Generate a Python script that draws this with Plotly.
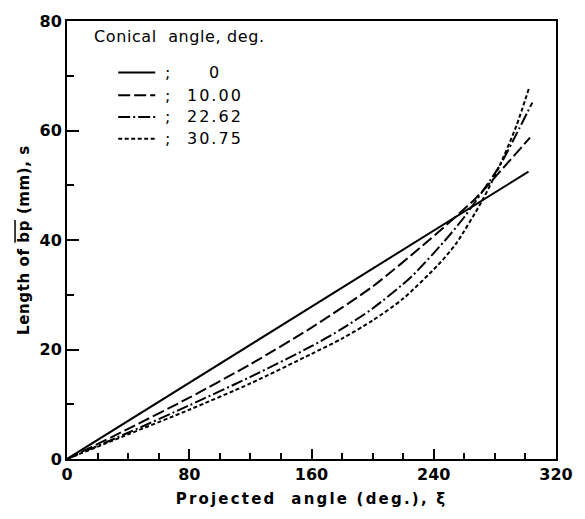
import plotly.graph_objects as go

# Projected angle (deg.) sample points and lengths (mm)
xi_0 = [0, 302]
s_0 = [0, 52.5]

xi_10 = [0, 40, 80, 120, 160, 200, 237, 267, 287.5, 303]
s_10 = [0, 5.5, 11.2, 17.3, 24.0, 31.5, 40.0, 47.5, 53.8, 58.7]

xi_22 = [0, 40, 80, 120, 160, 180, 200, 225, 247, 260, 283, 294, 304.5]
s_22 = [0, 4.8, 9.8, 15.0, 20.6, 23.8, 27.5, 33.2, 39.8, 44.2, 53.5, 59.3, 65.1]

xi_30 = [0, 40, 80, 120, 160, 180, 200, 220, 243, 254.5, 271.5, 283, 294, 302.4]
s_30 = [0, 4.5, 9.0, 13.8, 19.2, 22.0, 25.3, 29.3, 35.5, 39.3, 47.1, 53.5, 60.8, 67.8]

legend_title = "Conical  angle, deg."
legend_labels = ["0", "10.00", "22.62", "30.75"]
dashes = ["solid", "12px,4px", "12px,3px,2px,3px", "4px,2.5px"]

series = [(xi_0, s_0), (xi_10, s_10), (xi_22, s_22), (xi_30, s_30)]

fig = go.Figure()
for (xs, ys), d, lab in zip(series, dashes, legend_labels):
    fig.add_trace(go.Scatter(x=xs, y=ys, mode="lines", name=lab,
                             line=dict(color="black", width=2, dash=d, shape="spline", smoothing=0.7),
                             showlegend=False))

L, R, T, B = 66.5, 17, 16, 60
W, H = 585, 519
pw, ph = W - L - R, H - T - B

def px(x):
    return (x - L) / pw

def py(y):
    return (H - B - y) / ph

font_leg = dict(family="DejaVu Sans", size=16, color="black")

anns = [dict(x=px(92), y=py(32), xref="paper", yref="paper",
             text='<span style="letter-spacing:0.6px">' + legend_title + '</span>',
             showarrow=False, xanchor="left", yanchor="middle", font=font_leg)]
shapes = []
rows = [68, 91, 113, 135]
for ry, d, lab in zip(rows, dashes, legend_labels):
    shapes.append(dict(type="line", xref="paper", yref="paper", x0=px(119), x1=px(157),
                       y0=py(ry), y1=py(ry), line=dict(color="black", width=2, dash=d)))
    anns.append(dict(x=px(170), y=py(ry), xref="paper", yref="paper", text=";", showarrow=False,
                     xanchor="center", yanchor="middle", font=font_leg))
    txt = '<span style="letter-spacing:2px">' + lab + '</span>'
    if lab == "0":
        anns.append(dict(x=px(218), y=py(ry), xref="paper", yref="paper", text=txt, showarrow=False,
                         xanchor="center", yanchor="middle", font=font_leg))
    else:
        anns.append(dict(x=px(188), y=py(ry), xref="paper", yref="paper", text=txt, showarrow=False,
                         xanchor="left", yanchor="middle", font=font_leg))

tickfont = dict(family="DejaVu Sans", size=16, color="black", weight="bold")
titlefont = dict(family="DejaVu Sans", size=15, color="black", weight="bold")

fig.update_layout(
    width=W, height=H,
    margin=dict(l=L, r=R, t=T, b=B),
    paper_bgcolor="white", plot_bgcolor="white",
    annotations=anns, shapes=shapes,
    xaxis=dict(range=[0, 320], dtick=80, tick0=0, ticks="inside", ticklen=10, tickwidth=1.5,
               tickcolor="black", showline=True, linecolor="black", linewidth=2, mirror=True,
               showgrid=False, zeroline=False, tickfont=tickfont,
               minor=dict(dtick=20, ticks="inside", ticklen=6, tickcolor="black", tickwidth=1.5, showgrid=False),
               title=dict(text='<span style="letter-spacing:2.2px">Projected  angle (deg.), ξ</span>',
                          font=titlefont, standoff=10)),
    yaxis=dict(range=[0, 80], dtick=20, tick0=0, ticks="inside", ticklen=12, tickwidth=1.5,
               tickcolor="black", showline=True, linecolor="black", linewidth=2, mirror=True,
               showgrid=False, zeroline=False, tickfont=tickfont,
               minor=dict(dtick=10, ticks="inside", ticklen=7, tickcolor="black", tickwidth=1.5, showgrid=False),
               title=dict(text='<span style="letter-spacing:0.6px">Length of </span>'
                               '<span style="text-decoration:overline;letter-spacing:0.6px">bp</span>'
                               '<span style="letter-spacing:0.6px"> (mm), s</span>',
                          font=titlefont, standoff=6)),
)

fig.write_html("out.html")
